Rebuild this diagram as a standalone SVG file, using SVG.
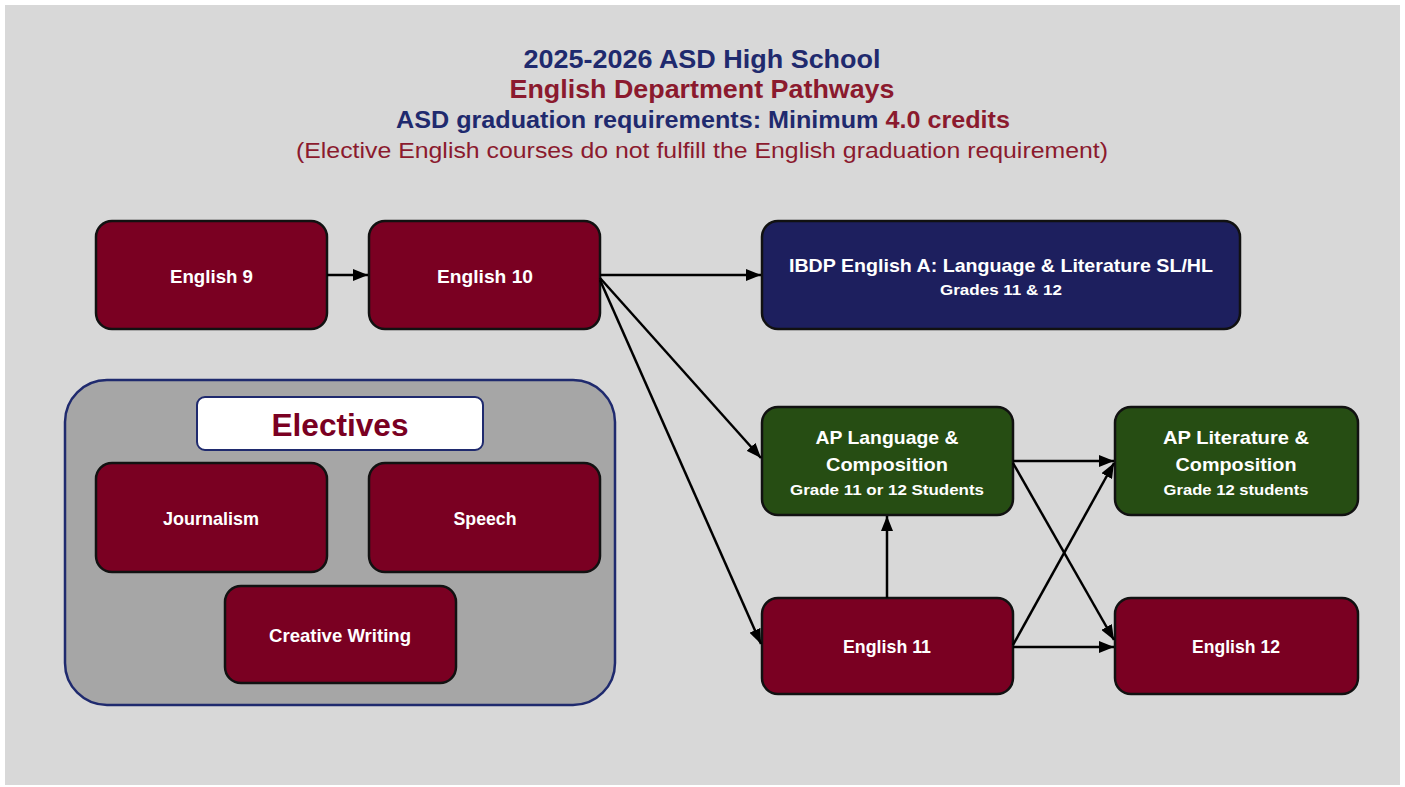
<svg xmlns="http://www.w3.org/2000/svg" width="1405" height="787" viewBox="0 0 1405 787">
<defs>
<marker id="arr" viewBox="0 0 15 12" refX="15" refY="6" markerWidth="15" markerHeight="12" markerUnits="userSpaceOnUse" orient="auto">
<path d="M0,0 L15,6 L0,12 Z" fill="#000"/>
</marker>
</defs>
<style>
.maroon{fill:#7a0022;stroke:#111;stroke-width:2.5}
.green{fill:#264d13;stroke:#111;stroke-width:2.5}
.navy{fill:#1d1f5e;stroke:#111;stroke-width:2.5}
.lbl{font-family:"Liberation Sans",Arial,sans-serif;font-weight:bold;fill:#fff;text-anchor:middle;font-size:19px}
.sub{font-family:"Liberation Sans",Arial,sans-serif;font-weight:bold;fill:#fff;text-anchor:middle;font-size:15px}
.t{font-family:"Liberation Sans",Arial,sans-serif;text-anchor:middle}
.conn line{stroke:#000;stroke-width:2.5;marker-end:url(#arr)}
</style>
<rect x="0" y="0" width="1405" height="787" fill="#fff"/>
<rect x="5" y="5" width="1395" height="780" fill="#d8d8d8"/>

<g id="title">
<text class="t" x="702" y="68" font-size="26" font-weight="bold" fill="#1f2a6e" textLength="357" lengthAdjust="spacingAndGlyphs">2025-2026 ASD High School</text>
<text class="t" x="702" y="98" font-size="26" font-weight="bold" fill="#8b1a2e" textLength="385" lengthAdjust="spacingAndGlyphs">English Department Pathways</text>
<text class="t" x="703" y="128" font-size="24" font-weight="bold" fill="#1f2a6e" textLength="614" lengthAdjust="spacingAndGlyphs">ASD graduation requirements: Minimum <tspan fill="#8b1a2e">4.0 credits</tspan></text>
<text class="t" x="702" y="158" font-size="22" fill="#8b1a2e" textLength="812" lengthAdjust="spacingAndGlyphs">(Elective English courses do not fulfill the English graduation requirement)</text>
</g>

<g id="electives">
<rect x="65" y="380" width="550" height="325" rx="42" fill="#a6a6a6" stroke="#1f2a6e" stroke-width="2.5"/>
<rect x="197" y="397" width="286" height="53" rx="8" fill="#fff" stroke="#1f2a6e" stroke-width="2"/>
<text class="t" x="340" y="436" font-size="32" font-weight="bold" fill="#7a0022" textLength="137" lengthAdjust="spacingAndGlyphs">Electives</text>
</g>

<g id="english9">
<rect class="maroon" x="96" y="221" width="231" height="108" rx="16"/>
<text class="lbl" x="211.5" y="283" textLength="83" lengthAdjust="spacingAndGlyphs">English 9</text>
</g>
<g id="english10">
<rect class="maroon" x="369" y="221" width="231" height="108" rx="16"/>
<text class="lbl" x="485" y="283" textLength="96" lengthAdjust="spacingAndGlyphs">English 10</text>
</g>
<g id="ibdp">
<rect class="navy" x="762" y="221" width="478" height="108" rx="16"/>
<text class="lbl" x="1001" y="272" font-size="21" textLength="424" lengthAdjust="spacingAndGlyphs">IBDP English A: Language &amp; Literature SL/HL</text>
<text class="sub" x="1001" y="295" textLength="122" lengthAdjust="spacingAndGlyphs">Grades 11 &amp; 12</text>
</g>
<g id="aplang">
<rect class="green" x="762" y="407" width="251" height="108" rx="16"/>
<text class="lbl" x="887" y="444" font-size="21" textLength="143" lengthAdjust="spacingAndGlyphs">AP Language &amp;</text>
<text class="lbl" x="887" y="471" font-size="21" textLength="122" lengthAdjust="spacingAndGlyphs">Composition</text>
<text class="sub" x="887" y="495" textLength="194" lengthAdjust="spacingAndGlyphs">Grade 11 or 12 Students</text>
</g>
<g id="aplit">
<rect class="green" x="1115" y="407" width="243" height="108" rx="16"/>
<text class="lbl" x="1236" y="444" font-size="21" textLength="146" lengthAdjust="spacingAndGlyphs">AP Literature &amp;</text>
<text class="lbl" x="1236" y="471" font-size="21" textLength="121" lengthAdjust="spacingAndGlyphs">Composition</text>
<text class="sub" x="1236" y="495" textLength="145" lengthAdjust="spacingAndGlyphs">Grade 12 students</text>
</g>
<g id="english11">
<rect class="maroon" x="762" y="598" width="251" height="96" rx="16"/>
<text class="lbl" x="887" y="653" textLength="88" lengthAdjust="spacingAndGlyphs">English 11</text>
</g>
<g id="english12">
<rect class="maroon" x="1115" y="598" width="243" height="96" rx="16"/>
<text class="lbl" x="1236" y="653" textLength="88" lengthAdjust="spacingAndGlyphs">English 12</text>
</g>
<g id="journalism">
<rect class="maroon" x="96" y="463" width="231" height="109" rx="16"/>
<text class="lbl" x="211" y="525" textLength="96" lengthAdjust="spacingAndGlyphs">Journalism</text>
</g>
<g id="speech">
<rect class="maroon" x="369" y="463" width="231" height="109" rx="16"/>
<text class="lbl" x="485" y="525" textLength="63" lengthAdjust="spacingAndGlyphs">Speech</text>
</g>
<g id="creative">
<rect class="maroon" x="225" y="586" width="231" height="97" rx="16"/>
<text class="lbl" x="340" y="642" textLength="142" lengthAdjust="spacingAndGlyphs">Creative Writing</text>
</g>

<g id="connectors" class="conn">
<line x1="327" y1="275" x2="368" y2="275"/>
<line x1="600" y1="275" x2="761" y2="275"/>
<line x1="600" y1="278" x2="761" y2="458"/>
<line x1="600" y1="280" x2="761" y2="644"/>
<line x1="887" y1="598" x2="887" y2="516"/>
<line x1="1013" y1="461" x2="1114" y2="461"/>
<line x1="1013" y1="463" x2="1114" y2="640"/>
<line x1="1013" y1="645" x2="1114" y2="463"/>
<line x1="1013" y1="647" x2="1114" y2="647"/>
</g>
</svg>
